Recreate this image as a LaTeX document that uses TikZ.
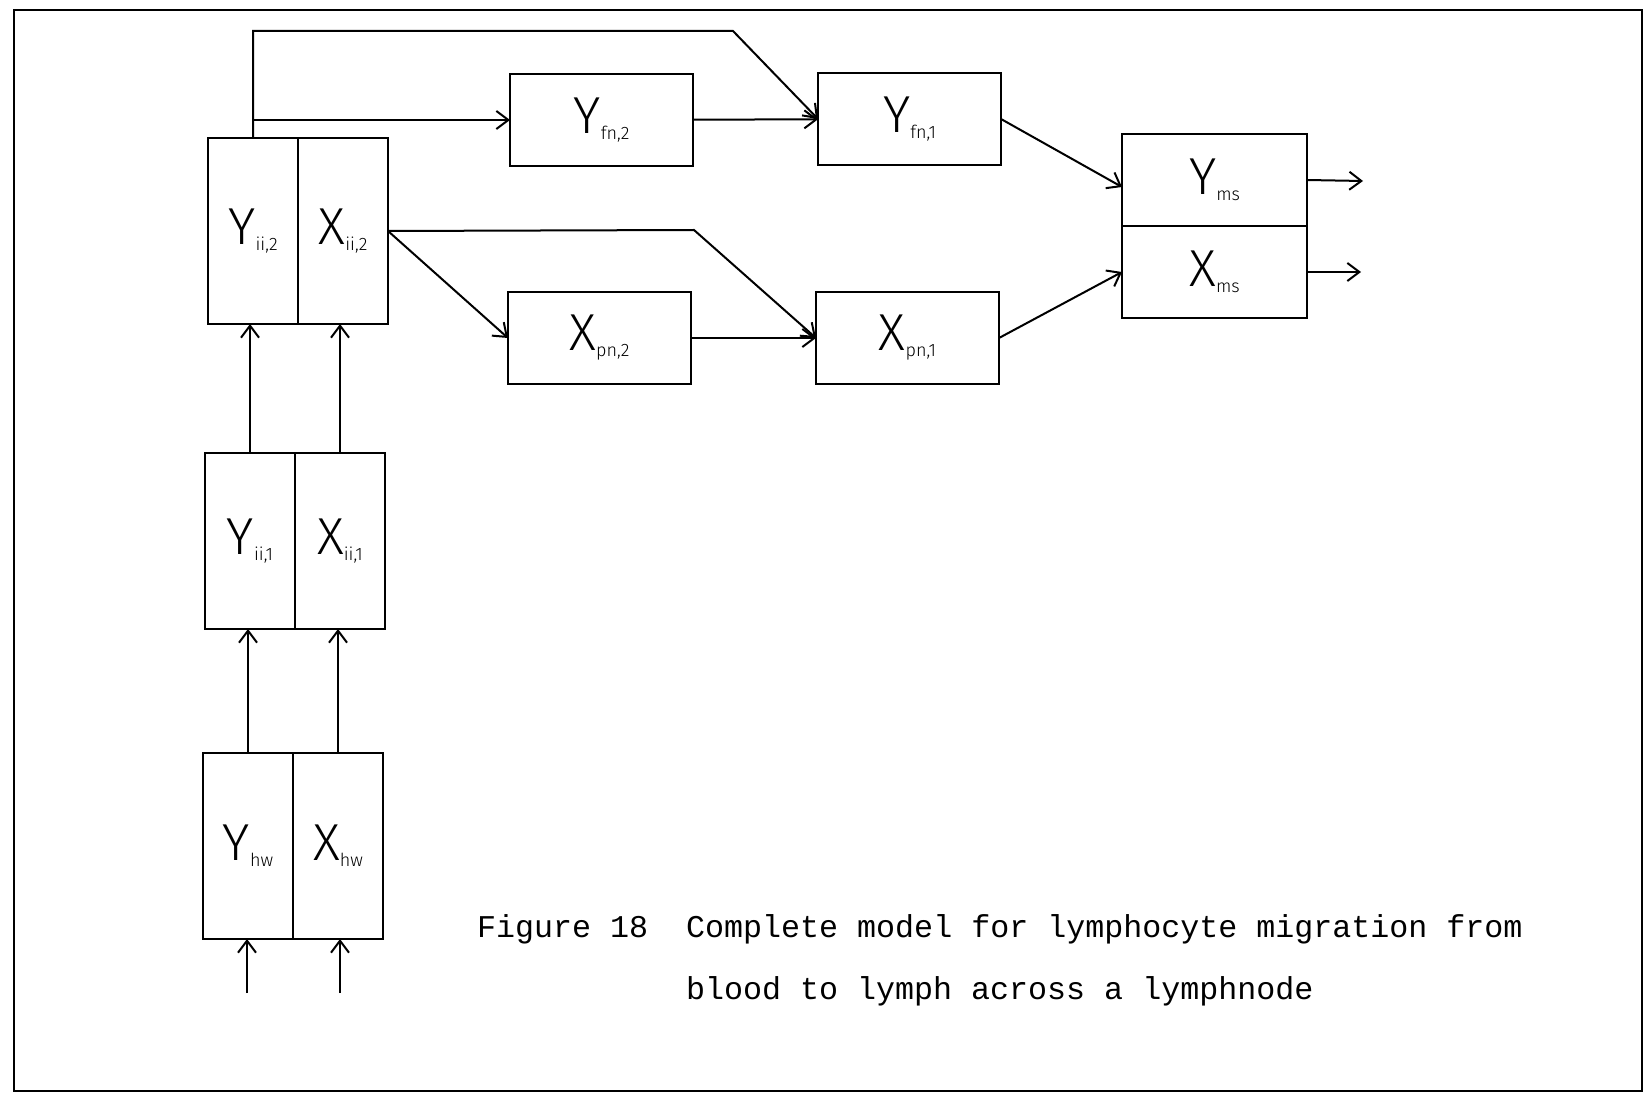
\documentclass[tikz,border=0pt]{standalone}
\usepackage{fontspec}
\newfontfamily\handfont{Fira Sans Light}
\newfontfamily\capfont{Liberation Mono}
\usetikzlibrary{arrows.meta,positioning}
\newcommand{\popn}[2]{{\fontsize{52}{52}\selectfont #1}\raisebox{-6pt}{\fontsize{18}{18}\selectfont #2}}

\begin{document}
\begin{tikzpicture}[
    x=1pt, y=-1pt,
    block/.style={draw, line width=2.4pt, outer sep=0pt, inner sep=0pt, minimum width=90pt, font=\handfont},
    tall/.style={block, minimum height=186pt},
    wide/.style={block, minimum width=183pt, minimum height=92pt},
    arrow/.style={-{Straight Barb[length=12pt,width=18pt]}, line width=2pt},
    caption/.style={anchor=base west, inner sep=0pt, font={\capfont\fontsize{31.67}{62}\selectfont}}
]
\useasboundingbox (0,0) rectangle (1650,1099);
\draw[line width=2.6pt] (14,10) rectangle (1642,1091);

\node[tall, anchor=north west] (yii2) at (208,138) {\popn{Y}{ii,2}};
\node[tall, right=0pt of yii2] (xii2) {\popn{X}{ii,2}};
\node[block, minimum height=176pt, anchor=north west] (yii1) at (205,453) {\popn{Y}{ii,1}};
\node[block, minimum height=176pt, right=0pt of yii1] (xii1) {\popn{X}{ii,1}};
\node[tall, anchor=north west] (yhw) at (203,753) {\popn{Y}{hw}};
\node[tall, right=0pt of yhw] (xhw) {\popn{X}{hw}};

\node[wide, anchor=north west] (yfn2) at (510,74) {\popn{Y}{fn,2}\hspace{16pt}};
\node[wide, anchor=north west] (yfn1) at (818,73) {\popn{Y}{fn,1}\hspace{16pt}};
\node[wide, anchor=north west] (xpn2) at (508,292) {\popn{X}{pn,2}\hspace{10pt}};
\node[wide, anchor=north west] (xpn1) at (816,292) {\popn{X}{pn,1}\hspace{10pt}};

\node[wide, minimum width=185pt, anchor=north west] (yms) at (1122,134) {\popn{Y}{ms}};
\node[wide, minimum width=185pt, below=0pt of yms] (xms) {\popn{X}{ms}\hspace{12pt}};

\node[caption] (cap1) at (477,937) {Figure 18\ \ Complete model for lymphocyte migration from};
\node[caption] (cap2) at (686,999) {blood to lymph across a lymphnode};

\coordinate (bend1) at (733,31);
\coordinate (bend2) at (694,230);
\coordinate (ymsout) at (1363,181);
\coordinate (xmsout) at (1361,272);
\coordinate (yin) at (247,993);
\coordinate (xin) at (340,993);

\draw[arrow] (yii2.north) |- (bend1) -- (yfn1.west);
\draw[arrow] (yii2.north |- yfn2.west) -- (yfn2.west);
\draw[arrow] (yfn2) -- (yfn1);
\draw[arrow] (xii2.east) -- (xpn2.west);
\draw[arrow] (xii2.east) -- (bend2) -- (xpn1.west);
\draw[arrow] (xpn2) -- (xpn1);
\draw[arrow] (yfn1.east) -- ([yshift=-7pt]yms.west);
\draw[arrow] (xpn1.east) -- (xms.west);
\draw[arrow] (yms.east) -- (ymsout);
\draw[arrow] (xms.east) -- (xmsout);
\draw[arrow] (yii1.north) -- (yii1.north |- yii2.south);
\draw[arrow] (xii1.north) -- (xii1.north |- xii2.south);
\draw[arrow] (yhw.north) -- (yhw.north |- yii1.south);
\draw[arrow] (xhw.north) -- (xhw.north |- xii1.south);
\draw[arrow] (yin) -- (yin |- yhw.south);
\draw[arrow] (xin) -- (xin |- xhw.south);
\end{tikzpicture}
\end{document}
